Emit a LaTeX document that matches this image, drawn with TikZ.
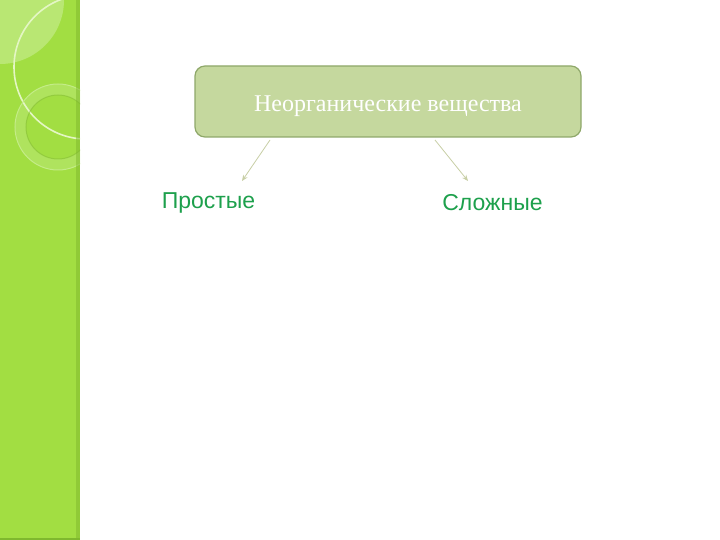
\documentclass[tikz,border=0pt]{standalone}
\usepackage{fontspec}
\setmainfont{Liberation Serif}
\newfontfamily\labfont{Liberation Sans}
\usetikzlibrary{arrows.meta}
\definecolor{panel}{HTML}{A2DE42}
\definecolor{panellight}{HTML}{C4EC88}
\definecolor{panelline}{HTML}{E4F6C4}
\definecolor{paneldark}{HTML}{7FB82E}
\definecolor{boxfill}{HTML}{C5D89E}
\definecolor{boxline}{HTML}{8FA86A}
\definecolor{arrowcol}{HTML}{C8CFA6}
\definecolor{labgreen}{HTML}{1DA04C}
\tikzset{
  topbox/.style={draw=boxline, line width=1.2pt, fill=boxfill, rounded corners=10pt,
    minimum width=386pt, minimum height=71pt, inner sep=0pt,
    text height=26pt, text depth=5pt,
    text=white, font=\fontsize{24}{28}\selectfont},
  lab/.style={text=labgreen, font=\labfont\fontsize{23}{26}\selectfont, inner sep=0pt, anchor=base},
  conn/.style={draw=arrowcol, line width=0.8pt, -{Stealth[length=6pt,width=5pt]}}
}
\begin{document}
\begin{tikzpicture}[x=1pt,y=-1pt]
\useasboundingbox (0,0) rectangle (720,540);
\fill[white] (0,0) rectangle (720,540);
% side panel
\begin{scope}
\clip (0,0) rectangle (80,540);
\fill[panel] (0,0) rectangle (80,540);
\fill[panellight, opacity=0.7] (0,0) circle (64);
\fill[panellight, opacity=0.4, even odd rule] (58,127) circle (43) (58,127) circle (32);
\draw[panelline, line width=1.6pt] (86,67) circle (72);
\draw[panellight, line width=1pt] (58,127) circle (43);
\draw[paneldark, opacity=0.5, line width=1pt] (58,127) circle (32);
\fill[paneldark, opacity=0.5] (76,0) rectangle (80,540);
\fill[paneldark] (0,538) rectangle (80,540);
\end{scope}
% diagram
\node[topbox] (root) at (388,101.5) {Неорганические вещества};
\node[lab] (simple) at (208.5,208) {Простые};
\node[lab] (complex) at (492.5,211) {Сложные};
\coordinate (a1) at (270,140);
\coordinate (a2) at (242,181);
\coordinate (b1) at (435,140);
\coordinate (b2) at (468,181);
\draw[conn] (a1) -- (a2);
\draw[conn] (b1) -- (b2);
\end{tikzpicture}
\end{document}
